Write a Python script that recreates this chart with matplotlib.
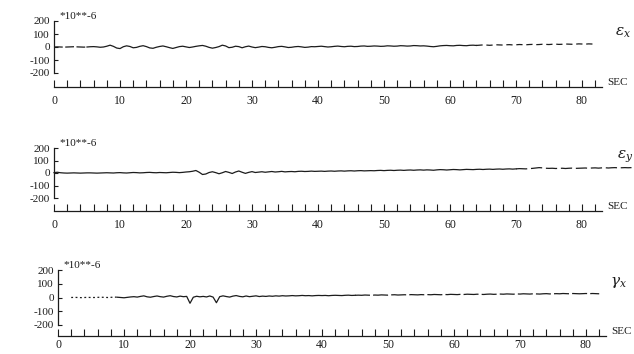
import matplotlib.pyplot as plt
import numpy as np

plt.rcParams['font.family'] = ['Liberation Serif', 'DejaVu Serif']
plt.rcParams['mathtext.fontset'] = 'dejavuserif'

# strain records in microstrain, one sample every 0.5 s
t = np.arange(165) * 0.5
t_long = np.arange(176) * 0.5

eps_x = [0, 1, 0, -1, 0, 1, 2, 1, 0, -1, 0, 2, 3, 1, -2, 0,
         6, 14, 5, -8, -12, 2, 9, 4, -6, -3, 5, 10, 3, -7, -10, -2,
         4, 8, 2, -5, -11, -4, 3, 6, 1, -4, 0, 5, 9, 12, 6, -3,
         -9, -4, 3, 14, 8, -5, -2, 6, 3, -6, 2, 7, 0, -5, -1, 4,
         2, -3, -6, -2, 3, 5, 1, -4, -2, 2, 4, 1, -3, -1, 3, 2,
         4, 6, 3, 0, 2, 5, 7, 4, 2, 5, 6, 3, 4, 7, 8, 5,
         6, 8, 7, 5, 6, 9, 8, 6, 7, 10, 9, 7, 8, 11, 10, 8,
         9, 7, 4, 2, 5, 9, 11, 12, 10, 9, 12, 13, 11, 10, 13, 14,
         12, 14, 16, 15, 13, 15, 17, 16, 15, 17, 18, 16, 17, 19, 18, 17,
         19, 20, 18, 19, 21, 20, 19, 21, 22, 20, 21, 23, 22, 21, 22, 24,
         23, 22, 24, 23, 24]

eps_y = [3, 6, 2, 0, -1, 0, 1, 0, -1, 0, 1, 1, 0, -1, 0, 1,
         2, 1, 0, 2, 3, 1, 0, 2, 4, 3, 1, 2, 4, 5, 3, 2,
         4, 3, 2, 4, 6, 5, 3, 5, 8, 10, 14, 20, 6, -12, -8, 4,
         10, 3, -6, 2, 12, 5, -4, 8, 16, 6, -3, 5, 11, 4, 7, 10,
         6, 9, 12, 8, 10, 13, 9, 11, 12, 10, 13, 14, 12, 13, 15, 13,
         14, 15, 13, 15, 16, 14, 16, 17, 15, 17, 18, 16, 18, 19, 17, 18,
         19, 18, 20, 21, 19, 21, 22, 20, 22, 23, 21, 23, 24, 22, 24, 25,
         23, 25, 24, 22, 25, 27, 26, 24, 26, 28, 27, 25, 27, 29, 28, 27,
         29, 30, 28, 30, 31, 29, 31, 32, 30, 32, 33, 31, 33, 35, 34, 33,
         35, 37, 40, 43, 41, 38, 37, 38, 36, 37, 38, 36, 38, 39, 37, 38,
         39, 40, 38, 40, 41, 39, 41, 42, 40, 42, 43, 41, 42, 43, 42, 43]

gamma_x = [0, 0, 0, 0, 0, 1, 0, -1, 0, 1, 0, 0, 1, 2, 1, 0,
           1, 3, 2, 0, -2, 1, 4, 6, 3, 8, 12, 5, 2, 7, 11, 6,
           3, 9, 13, 7, 4, 10, 6, 8, -42, 2, 9, 5, 8, 4, 11, 3,
           -38, 6, 12, 7, 3, 10, 14, 8, 5, 11, 6, 9, 12, 7, 10, 8,
           11, 9, 12, 10, 13, 11, 12, 14, 12, 13, 15, 13, 14, 12, 14, 15,
           14, 15, 13, 15, 16, 15, 14, 16, 17, 15, 16, 17, 16, 18, 17, 16,
           18, 17, 19, 18, 17, 19, 20, 18, 19, 20, 19, 21, 20, 19, 21, 20,
           21, 20, 22, 21, 20, 22, 21, 23, 22, 21, 23, 22, 24, 23, 22, 24,
           23, 22, 24, 25, 23, 24, 25, 24, 26, 25, 24, 26, 25, 27, 26, 25,
           27, 26, 25, 27, 28, 26, 27, 28, 27, 29, 28, 27, 29, 28, 27, 28,
           29, 28, 29, 28, 27]

x_major = [0, 10, 20, 30, 40, 50, 60, 70, 80]
y_ticks = [200, 100, 0, -100, -200]
y_labels = ['200', '100', '0', '-100', '-200']
names = [r'$\varepsilon_x$', r'$\varepsilon_y$', r'$\gamma_x$']

INK = '#1c1c1c'
W, H = 634, 354
PX_PER_SEC = 6.6
XMAX = 87.5

fig = plt.figure(figsize=(W / 100, H / 100), dpi=100)


def make_panel(top, bot, base, x0, xpad=6):
    # top/bot: pixel rows of +200/-200, base: time axis row, x0: column of t=0
    upp = 400 / (bot - top)
    ax = fig.add_axes([x0 / W, (H - base) / H,
                       XMAX * PX_PER_SEC / W, (base - top + 9) / H])
    ax.set_xlim(0, XMAX)
    ax.set_ylim(-200 - (base - bot) * upp, 200 + 9 * upp)
    ax.patch.set_visible(False)
    for s in ['top', 'right']:
        ax.spines[s].set_visible(False)
    ax.spines['left'].set_bounds(-200, 200)
    ax.spines['bottom'].set_bounds(0, 83)
    for s in ['left', 'bottom']:
        ax.spines[s].set_linewidth(0.9)
        ax.spines[s].set_color(INK)
    ax.set_xticks(x_major)
    ax.set_xticks(np.arange(0, 83, 2), minor=True)
    ax.set_yticks(y_ticks)
    ax.set_yticklabels(y_labels)
    ax.tick_params(axis='x', which='both', direction='in', length=5,
                   width=0.8, color=INK, labelsize=8.5, pad=xpad,
                   labelcolor=INK)
    ax.tick_params(axis='y', direction='in', length=3, width=0.8,
                   color=INK, labelsize=8, pad=3, labelcolor=INK)
    ax.text(0.9, 200, '*10**-6', fontsize=8, color=INK,
            ha='left', va='bottom')
    ax.text(83.8, ax.get_ylim()[0], 'SEC', fontsize=8, color=INK,
            ha='left', va='bottom', clip_on=False)
    return ax


ax1 = make_panel(21, 73, 87, 54)
ax2 = make_panel(148, 198, 211, 54)
ax3 = make_panel(270, 325, 336, 58, xpad=2.5)

lw = 0.9
dash = (0, (7, 2))

# eps_x: faint start and end of the record
ax1.plot(t[:11], eps_x[:11], color=INK, lw=lw, ls=dash)
ax1.plot(t[10:129], eps_x[10:129], color=INK, lw=lw)
ax1.plot(t[128:], eps_x[128:], color=INK, lw=lw, ls=(0, (5, 3)))

# eps_y runs past the end of the time axis
ax2.plot(t_long[:141], eps_y[:141], color=INK, lw=lw, clip_on=False)
ax2.plot(t_long[140:], eps_y[140:], color=INK, lw=lw, ls=(0, (9, 3)),
         clip_on=False)

# gamma_x
ax3.plot(t[4:19], gamma_x[4:19], color=INK, lw=lw, ls=(0, (1.5, 2)))
ax3.plot(t[18:91], gamma_x[18:91], color=INK, lw=lw)
ax3.plot(t[90:], gamma_x[90:], color=INK, lw=lw, ls=(0, (12, 2.5)))

fig.text(623 / W, 1 - 33 / H, names[0], fontsize=11, color=INK,
         ha='center', va='center')
fig.text(625 / W, 1 - 157 / H, names[1], fontsize=11, color=INK,
         ha='center', va='center')
fig.text(618 / W, 1 - 282 / H, names[2], fontsize=11, color=INK,
         ha='center', va='center')

fig.savefig('out.png', dpi=100, facecolor='white')
